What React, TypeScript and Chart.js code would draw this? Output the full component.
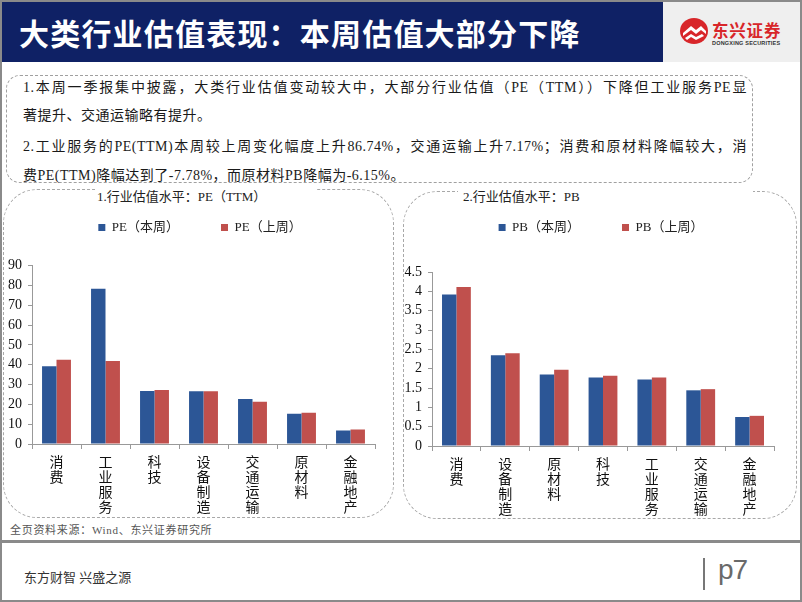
import React, { useEffect, useRef } from 'react';
import { Chart, registerables } from 'chart.js';

Chart.register(...registerables);

// ---------- data ----------
const peCategories = ['消费', '工业服务', '科技', '设备制造', '交通运输', '原材料', '金融地产'];
const peThisWeek = [39.2, 78.3, 26.7, 26.6, 22.7, 15.2, 6.8];
const peLastWeek = [42.5, 41.9, 27.2, 26.6, 21.3, 15.7, 7.3];
const peSeriesNames = ['PE（本周）', 'PE（上周）'];
const peAxis = { max: 90, step: 10 };

const pbCategories = ['消费', '设备制造', '原材料', '科技', '工业服务', '交通运输', '金融地产'];
const pbThisWeek = [3.92, 2.35, 1.85, 1.77, 1.72, 1.44, 0.75];
const pbLastWeek = [4.11, 2.4, 1.97, 1.82, 1.77, 1.47, 0.78];
const pbSeriesNames = ['PB（本周）', 'PB（上周）'];
const pbAxis = { max: 4.5, step: 0.5 };

const BLUE = '#2C5696';
const RED = '#C0504D';
const SERIF = '"Times New Roman", "Liberation Serif", "Noto Sans CJK SC", serif';
const SANS = '"Noto Sans CJK SC", "Noto Sans", sans-serif';

type ChartProps = {
  categories: string[];
  a: number[];
  b: number[];
  names: string[];
  axis: { max: number; step: number };
  width: number;
  height: number;
  rightPad: number;
  xHeight: number;
  topExtra: number;
};

function BarChart(p: ChartProps) {
  const ref = useRef<HTMLCanvasElement | null>(null);
  useEffect(() => {
    if (!ref.current) return;
    const spacer = {
      id: 'legendSpacer',
      beforeInit(chart: any) {
        const fit = chart.legend.fit;
        chart.legend.fit = function () {
          fit.call(this);
          this.height += p.topExtra;
        };
      },
    };
    const chart = new Chart(ref.current, {
      type: 'bar',
      data: {
        labels: p.categories.map((c) => c.split('')),
        datasets: [
          { label: p.names[0], data: p.a, backgroundColor: BLUE, borderWidth: 0 },
          { label: p.names[1], data: p.b, backgroundColor: RED, borderWidth: 0 },
        ],
      },
      options: {
        animation: false,
        responsive: false,
        maintainAspectRatio: false,
        layout: { padding: { top: 20, left: 0, right: 0, bottom: 0 } },
        datasets: { bar: { barPercentage: 1, categoryPercentage: 0.59 } },
        plugins: {
          title: { display: false },
          tooltip: { enabled: false },
          legend: {
            position: 'top',
            labels: {
              boxWidth: 7,
              boxHeight: 7,
              padding: 16,
              color: '#222',
              font: { family: SERIF, size: 13 },
              generateLabels: (chart: any) => {
                const items = (Chart as any).defaults.plugins.legend.labels.generateLabels(chart);
                return items.map((it: any, i: number) => ({
                  ...it,
                  lineWidth: 0,
                  text: i === 0 ? it.text + '\u3000\u3000\u2002' : it.text,
                }));
              },
            },
          },
        },
        scales: {
          x: {
            grid: { display: true, drawOnChartArea: false, drawTicks: true, tickLength: 5, color: '#999', offset: true },
            border: { display: true, color: '#999' },
            ticks: {
              autoSkip: false,
              maxRotation: 0,
              minRotation: 0,
              padding: 7,
              color: '#111',
              font: { family: SERIF, size: 14, lineHeight: 1.07 },
            },
            afterFit: (s: any) => {
              s.height = p.xHeight;
            },
          },
          y: {
            min: 0,
            max: p.axis.max,
            ticks: {
              stepSize: p.axis.step,
              autoSkip: false,
              padding: 6,
              color: '#111',
              font: { family: SERIF, size: 14 },
              callback: (v: any) => String(Math.round(Number(v) * 100) / 100),
            },
            grid: { display: true, drawOnChartArea: false, drawTicks: true, tickLength: 4, color: '#999' },
            border: { display: true, color: '#999' },
            afterFit: (s: any) => {
              s.width = 32;
            },
          },
          yRight: {
            position: 'right',
            display: true,
            grid: { display: false },
            ticks: { display: false },
            border: { display: false },
            afterFit: (s: any) => {
              s.width = p.rightPad;
            },
          },
        },
      } as any,
      plugins: [spacer],
    });
    return () => chart.destroy();
  }, []);
  return <canvas ref={ref} width={p.width} height={p.height} style={{ width: p.width, height: p.height, display: 'block' }} />;
}

const abs = (o: React.CSSProperties): React.CSSProperties => ({ position: 'absolute', ...o });

export default function App() {
  const lineStyle: React.CSSProperties = {
    fontFamily: SERIF,
    fontSize: 14,
    letterSpacing: 0.5,
    color: '#1a1a1a',
    lineHeight: '20px',
    whiteSpace: 'nowrap',
  };
  const justified: React.CSSProperties = {
    ...lineStyle,
    width: 724,
    textAlign: 'justify',
    textAlignLast: 'justify' as any,
  };
  return (
    <div style={{ position: 'fixed', left: 0, top: 0, width: 802, height: 602, background: '#fff', overflow: 'hidden' }}>
      {/* header */}
      <div style={abs({ left: 0, top: 0, width: 663, height: 62, background: '#0f2165' })} />
      <div
        style={abs({
          left: 19,
          top: 2,
          height: 60,
          lineHeight: '60px',
          color: '#fff',
          fontFamily: SANS,
          fontWeight: 700,
          fontSize: 30,
          letterSpacing: 1.2,
          whiteSpace: 'nowrap',
        })}
      >
        大类行业估值表现：本周估值大部分下降
      </div>
      <div style={abs({ left: 663, top: 0, width: 139, height: 62, background: '#efefef' })} />
      <svg style={abs({ left: 679, top: 17, width: 30, height: 28 })} viewBox="0 0 30 28">
        <ellipse cx="15" cy="14" rx="14" ry="13" fill="#d8262a" />
        <path d="M4 16 L12 9 L17 13 L22 9 L27 14 L27 17 L22 13 L17 17 L12 13 L4 19 Z" fill="#fff" />
        <path d="M6 21 L12 17 L17 20 L23 17 L25 19 L17 23 L12 20 L8 23 Z" fill="#fff" />
      </svg>
      <div style={abs({ left: 712, top: 19, fontFamily: SANS, fontWeight: 700, fontSize: 16.5, color: '#d8262a', letterSpacing: 0.8, lineHeight: '22px', whiteSpace: 'nowrap' })}>
        东兴证券
      </div>
      <div style={abs({ left: 712, top: 40, fontFamily: '"Liberation Sans", sans-serif', fontWeight: 700, fontSize: 5.5, color: '#333', lineHeight: '7px', letterSpacing: 0.2, whiteSpace: 'nowrap' })}>
        DONGXING SECURITIES
      </div>

      {/* text box */}
      <div style={abs({ left: 6, top: 75, width: 747, height: 108, border: '1px dashed #a0a0a0', borderRadius: 14, boxSizing: 'border-box' })} />
      <div style={abs({ left: 23, top: 78, ...justified })}>1.本周一季报集中披露，大类行业估值变动较大中，大部分行业估值（PE（TTM））下降但工业服务PE显</div>
      <div style={abs({ left: 23, top: 106, ...lineStyle })}>著提升、交通运输略有提升。</div>
      <div style={abs({ left: 23, top: 137, ...justified })}>2.工业服务的PE(TTM)本周较上周变化幅度上升86.74%，交通运输上升7.17%；消费和原材料降幅较大，消</div>
      <div style={abs({ left: 23, top: 166, ...lineStyle })}>费PE(TTM)降幅达到了-7.78%，而原材料PB降幅为-6.15%。</div>

      {/* chart panels */}
      <div style={abs({ left: 3, top: 189, width: 391, height: 329, border: '1px dashed #a8a8a8', borderRadius: 34, boxSizing: 'border-box' })} />
      <div style={abs({ left: 403, top: 191, width: 394, height: 328, border: '1px dashed #a8a8a8', borderRadius: 34, boxSizing: 'border-box' })} />
      <div style={abs({ left: 95, top: 186, width: 222, height: 20, background: '#fff' })} />
      <div style={abs({ left: 458, top: 186, width: 295, height: 20, background: '#fff' })} />
      <div style={abs({ left: 97, top: 188, fontFamily: SERIF, fontSize: 13, lineHeight: '18px', color: '#222', whiteSpace: 'nowrap' })}>1.行业估值水平：PE（TTM）</div>
      <div style={abs({ left: 463, top: 188, fontFamily: SERIF, fontSize: 13, lineHeight: '18px', color: '#222', whiteSpace: 'nowrap' })}>2.行业估值水平：PB</div>

      <div style={abs({ left: 0, top: 185 })}>
        <BarChart categories={peCategories} a={peThisWeek} b={peLastWeek} names={peSeriesNames} axis={peAxis} width={400} height={335} rightPad={25} xHeight={76} topExtra={21.5} />
      </div>
      <div style={abs({ left: 400, top: 185 })}>
        <BarChart categories={pbCategories} a={pbThisWeek} b={pbLastWeek} names={pbSeriesNames} axis={pbAxis} width={402} height={335} rightPad={28} xHeight={74} topExtra={28} />
      </div>

      {/* footer */}
      <div style={abs({ left: 10, top: 522, fontFamily: SERIF, fontSize: 11, letterSpacing: 0.7, color: '#555', lineHeight: '16px', whiteSpace: 'nowrap' })}>
        全页资料来源：Wind、东兴证券研究所
      </div>
      <div style={abs({ left: 0, top: 540, width: 802, height: 3, background: '#8a8a8a' })} />
      <div style={abs({ left: 24, top: 569, fontFamily: SERIF, fontSize: 13, color: '#333', lineHeight: '18px', whiteSpace: 'nowrap' })}>东方财智 兴盛之源</div>
      <div style={abs({ left: 703, top: 558, width: 1.5, height: 32, background: '#777' })} />
      <div style={abs({ left: 718, top: 552, fontFamily: '"Liberation Sans", Arial, sans-serif', fontSize: 28, color: '#6a6a6a', lineHeight: '36px', letterSpacing: -1, whiteSpace: 'nowrap' })}>p7</div>

      {/* slide border */}
      <div style={abs({ left: 0, top: 0, width: 802, height: 602, border: '2px solid #8a8a8a', boxSizing: 'border-box', pointerEvents: 'none' })} />
    </div>
  );
}
